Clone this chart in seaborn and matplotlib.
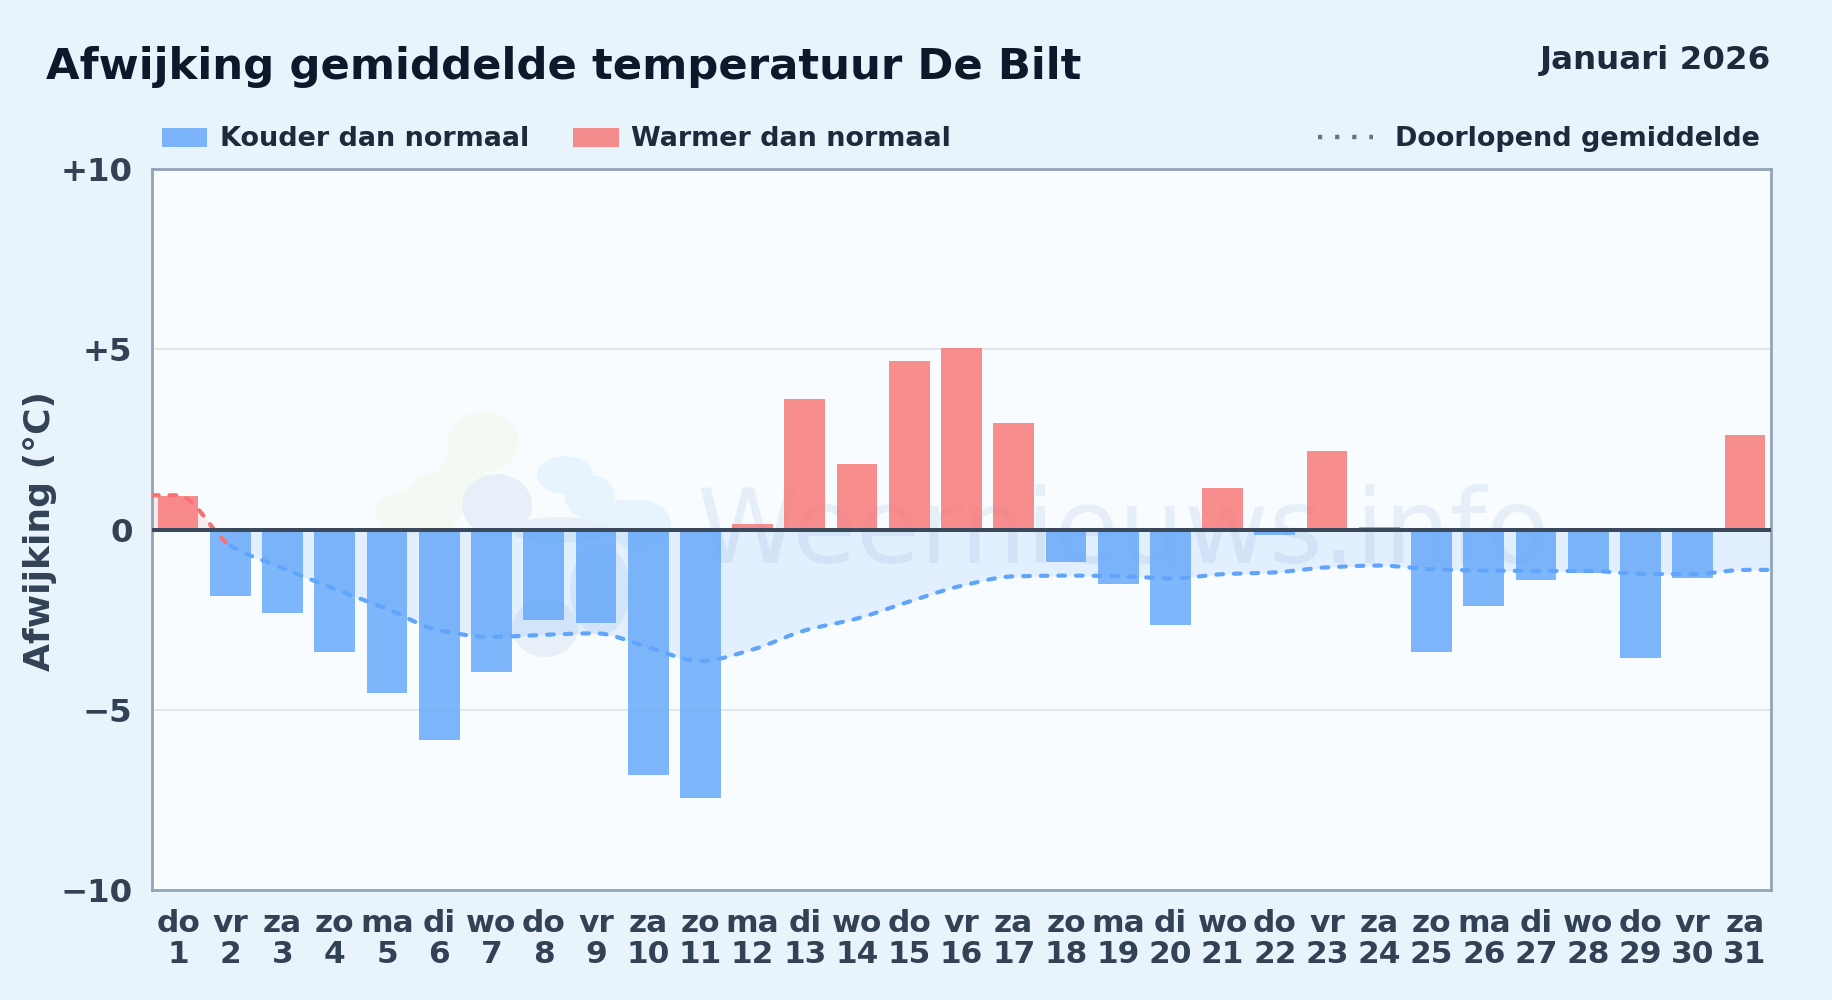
import numpy as np
import pandas as pd
import matplotlib
matplotlib.use("Agg")
import matplotlib.pyplot as plt
import seaborn as sns
from matplotlib.lines import Line2D
from matplotlib.patches import Patch, Ellipse
from matplotlib.transforms import Affine2D

# weekdagen en dagnummers januari 2026
weekdagen = ['do', 'vr', 'za', 'zo', 'ma', 'di', 'wo', 'do', 'vr', 'za', 'zo', 'ma', 'di', 'wo', 'do', 'vr',
             'za', 'zo', 'ma', 'di', 'wo', 'do', 'vr', 'za', 'zo', 'ma', 'di', 'wo', 'do', 'vr', 'za']
dagen = list(range(1, 32))

# afwijking per dag
afwijking = [0.93, -1.85, -2.33, -3.4, -4.53, -5.83, -3.95, -2.5, -2.6, -6.8, -7.45, 0.16, 3.62, 1.82, 4.67, 5.03,
             2.96, -0.9, -1.52, -2.65, 1.15, -0.15, 2.18, 0.08, -3.4, -2.12, -1.4, -1.2, -3.57, -1.35, 2.63]

gemiddelde = [0.95, -0.45, -1.07, -1.65, -2.2, -2.8, -2.98, -2.92, -2.88, -3.27, -3.65, -3.33, -2.8, -2.47,
              -2.0, -1.56, -1.3, -1.28, -1.29, -1.36, -1.24, -1.19, -1.05, -1.0, -1.1, -1.14, -1.15, -1.15,
              -1.23, -1.24, -1.12]

y_ticks = [-10, -5, 0, 5, 10]
y_labels = ['\u221210', '\u22125', '0', '+5', '+10']

BLAUW = '#60a5fa'
ROOD = '#f87171'
TEKST = '#334155'


def monotone(x, y, n=16):
    # monotone cubic zodat de lijn net zo vloeiend loopt als in het origineel
    h = np.diff(x)
    d = np.diff(y) / h
    m = np.zeros(len(x))
    m[0], m[-1] = d[0], d[-1]
    for i in range(1, len(x) - 1):
        if d[i - 1] * d[i] > 0:
            m[i] = 2 * d[i - 1] * d[i] / (d[i - 1] + d[i])
    xs, ys = [], []
    for i in range(len(h)):
        t = np.linspace(0, 1, n, endpoint=False)
        xs.append(x[i] + t * h[i])
        ys.append((2*t**3 - 3*t**2 + 1) * y[i] + (t**3 - 2*t**2 + t) * h[i] * m[i]
                  + (-2*t**3 + 3*t**2) * y[i + 1] + (t**3 - t**2) * h[i] * m[i + 1])
    xs.append(np.array([x[-1]]))
    ys.append(np.array([y[-1]]))
    return np.concatenate(xs), np.concatenate(ys)


df = pd.DataFrame({
    'dag': [f'{w}\n{d}' for w, d in zip(weekdagen, dagen)],
    'afwijking': afwijking,
})
df['soort'] = np.where(df['afwijking'] < 0, 'Kouder dan normaal', 'Warmer dan normaal')

sns.set_theme(style='white')
plt.rcParams['font.family'] = ['DejaVu Sans']

fig = plt.figure(figsize=(18.32, 10), dpi=100, facecolor='#e8f3fc')
ax = fig.add_axes([152 / 1832, 1 - 890 / 1000, (1771 - 152) / 1832, (890 - 169) / 1000], facecolor='#f8fcff')

# logo watermerk, in pixels van de figuur
px = Affine2D().scale(1, -1).translate(0, 1000)
logo = [
    (483, 442, 72, 60, '#f3f9f3'), (462, 478, 46, 60, '#f3f9f3'), (442, 495, 70, 46, '#f3f9f3'),
    (418, 512, 84, 46, '#f3f9f3'),
    (565, 475, 56, 38, '#e8f4fd'), (590, 497, 50, 44, '#e8f4fd'), (620, 518, 70, 36, '#e8f4fd'),
    (640, 525, 62, 50, '#e8f4fd'),
    (497, 505, 70, 62, '#e7f0f8'), (560, 530, 100, 26, '#e7f0f8'), (545, 628, 66, 58, '#e7f0f8'),
    (600, 590, 60, 90, '#e7f0f8'),
]
for cx, cy, w, h, kleur in logo:
    ax.add_patch(Ellipse((cx, cy), w, h, facecolor=kleur, edgecolor='none', transform=px, zorder=0.3))
ax.text(0.600, 0.4535, 'Weernieuws.info', transform=ax.transAxes, fontsize=74.5, fontweight='normal',
        color='#1e5fa8', alpha=0.08, ha='center', va='baseline', zorder=0.4)

ax.axhline(5, color='#e2e8ee', lw=1.5, zorder=0.5)
ax.axhline(-5, color='#e2e8ee', lw=1.5, zorder=0.5)

# lijn loopt door tot aan de randen van het vlak
x_lijn = np.array([-0.5] + list(range(31)) + [30.5])
y_lijn = np.array([gemiddelde[0]] + gemiddelde + [gemiddelde[-1]])
xs, ys = monotone(x_lijn, y_lijn)
deel_rood = xs <= 1
deel_blauw = xs >= 1

ax.fill_between(xs[deel_rood], 0, ys[deel_rood], color=ROOD, alpha=0.12, lw=0, zorder=0.6)
ax.fill_between(xs[deel_blauw], 0, ys[deel_blauw], color=BLAUW, alpha=0.15, lw=0, zorder=0.6)

sns.barplot(data=df, x='dag', y='afwijking', hue='soort', dodge=False, width=0.78, alpha=0.8,
            palette={'Kouder dan normaal': BLAUW, 'Warmer dan normaal': ROOD},
            saturation=1, legend=False, ax=ax, zorder=2, linewidth=0, edgecolor='none')

streep = (0, (1.6, 2.62))
for deel, kleur in [(deel_rood, ROOD), (deel_blauw, BLAUW)]:
    sns.lineplot(x=xs[deel], y=ys[deel], color=kleur, lw=3.0, linestyle=streep, dash_capstyle='round',
                 sort=False, estimator=None, errorbar=None, legend=False, ax=ax, zorder=3)

ax.axhline(0, color='#3b495d', lw=2.9, zorder=4)

ax.set_xlim(-0.5, 30.5)
ax.set_ylim(-10, 10)
ax.set_yticks(y_ticks)
ax.set_yticklabels(y_labels)
ax.tick_params(axis='x', length=0, labelcolor=TEKST, labelsize=22.5, pad=13.7)
ax.tick_params(axis='y', length=0, labelcolor=TEKST, labelsize=23.3, pad=14)
for t in ax.get_xticklabels() + ax.get_yticklabels():
    t.set_fontweight('bold')
for t in ax.get_xticklabels():
    t.set_linespacing(1.1)
ax.set_xlabel('')
ax.set_ylabel('')
for s in ax.spines.values():
    s.set_visible(True)
    s.set_color('#94a3b8')
    s.set_linewidth(2)

fig.text(46 / 1832, 1 - 67 / 1000, 'Afwijking gemiddelde temperatuur De Bilt', fontsize=31.2,
         fontweight='bold', color='#0f172a', ha='left', va='center')
fig.text(1771 / 1832, 1 - 60 / 1000, 'Januari 2026', fontsize=23.4, fontweight='bold', color='#1e293b',
         ha='right', va='center')
fig.text(40 / 1832, 1 - 531 / 1000, 'Afwijking (\u00b0C)', fontsize=26, fontweight='bold', color=TEKST,
         rotation=90, ha='center', va='center')

links = [Patch(color=BLAUW, alpha=0.8, lw=0, label='Kouder dan normaal'),
         Patch(color=ROOD, alpha=0.8, lw=0, label='Warmer dan normaal')]
leg1 = fig.legend(handles=links, loc='center left', bbox_to_anchor=(162 / 1832, 1 - 139.5 / 1000), ncol=2,
                  frameon=False, borderaxespad=0, borderpad=0, prop={'size': 19.45, 'weight': 'bold'},
                  handlelength=1.68, handleheight=0.7, handletextpad=0.45, columnspacing=1.65, labelcolor='#1e293b')
rechts = [Line2D([0], [0], color='#64748b', lw=3.2, linestyle=(0, (0.95, 2.9)), dash_capstyle='butt',
                 label='Doorlopend gemiddelde')]
leg2 = fig.legend(handles=rechts, loc='center right', bbox_to_anchor=(1760 / 1832, 1 - 139.5 / 1000),
                  frameon=False, borderaxespad=0, borderpad=0, prop={'size': 19.45, 'weight': 'bold'},
                  handlelength=2.02, handletextpad=0.83, labelcolor='#1e293b')

fig.savefig('out.png', dpi=100, facecolor=fig.get_facecolor())
